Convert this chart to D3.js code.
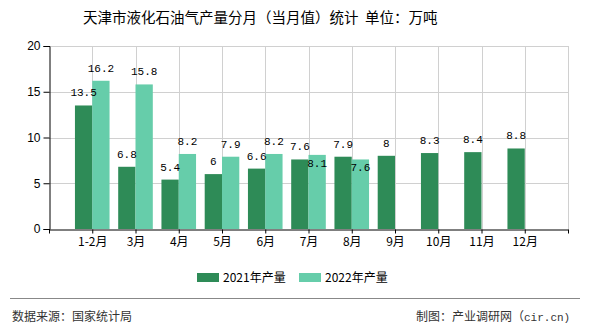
<!DOCTYPE html>
<html><head><meta charset="utf-8">
<script src="https://cdn.jsdelivr.net/npm/d3@7"></script>
<style>
html,body{margin:0;padding:0;background:#fff;}
svg{display:block;}
</style></head>
<body>
<svg id="c" width="590" height="330"></svg>
<script>
const categories = ["1-2月","3月","4月","5月","6月","7月","8月","9月","10月","11月","12月"];
const values2021 = [13.5, 6.8, 5.4, 6, 6.6, 7.6, 7.9, 8, 8.3, 8.4, 8.8];
const values2022 = [16.2, 15.8, 8.2, 7.9, 8.2, 8.1, 7.6];
const seriesNames = ["2021年产量", "2022年产量"];
const yTicks = [0, 5, 10, 15, 20];
const title = "天津市液化石油气产量分月（当月值）统计  单位：万吨";
const sourceText = "数据来源：国家统计局";
const creditCJK = "制图：产业调研网（";
const creditLatin = "cir.cn)";

(function () {
const colors = ["#2E8B57", "#66CDAA"];
const cjk = "'Noto Sans CJK SC', 'Noto Sans', sans-serif";
const mono = "'Liberation Mono', 'DejaVu Sans Mono', monospace";
const svg = d3.select("#c");

const pL = 49, pR = 568, pT = 46, pB = 229;
const x = d3.scaleLinear().domain([0, categories.length + 1]).range([pL, pR]);
const y = d3.scaleLinear().domain([0, 20]).range([pB, pT]);
const step = x(1) - x(0);
const bw = step * 0.4;

// title
svg.append("text").attr("x", 83).attr("y", 23)
  .attr("font-family", cjk).attr("font-size", 14.5).attr("fill", "#000")
  .style("white-space", "pre").text(title);

// grid
const g = svg.append("g");
g.selectAll("line.h").data(yTicks.filter(d => d > 0)).join("line")
  .attr("x1", pL).attr("x2", pR).attr("y1", d => Math.round(y(d)) + 0.5).attr("y2", d => Math.round(y(d)) + 0.5)
  .attr("stroke", "#d0d0d0");
g.selectAll("line.v").data(d3.range(1, categories.length + 2)).join("line")
  .attr("x1", d => Math.round(x(d)) + 0.5).attr("x2", d => Math.round(x(d)) + 0.5)
  .attr("y1", pT).attr("y2", pB).attr("stroke", "#d0d0d0");

// bars
const bars = svg.append("g");
bars.selectAll("rect.a").data(values2021).join("rect")
  .attr("x", (d, i) => x(i + 1) - bw).attr("width", bw)
  .attr("y", d => y(d)).attr("height", d => y(0) - y(d)).attr("fill", colors[0]);
bars.selectAll("rect.b").data(values2022).join("rect")
  .attr("x", (d, i) => x(i + 1)).attr("width", bw)
  .attr("y", d => y(d)).attr("height", d => y(0) - y(d)).attr("fill", colors[1]);

// labels with simple collision avoidance
const labels = svg.append("g").attr("font-family", mono).attr("font-size", 11).attr("fill", "#000").attr("text-anchor", "middle");
const boxA = values2021.map((d, i) => ({ cx: x(i + 1) - bw / 2, base: y(d) - 9, w: String(d).length * 6.6, v: d }));
const boxB = values2022.map((d, i) => {
  let b = { cx: x(i + 1) + bw / 2, base: y(d) - 9, w: String(d).length * 6.6, v: d };
  const a = boxA[i];
  if (a && Math.abs(a.cx - b.cx) < (a.w + b.w) / 2 && Math.abs(a.base - b.base) < 12) {
    b.base = y(d) + 12;
  }
  return b;
});
labels.selectAll("text.a").data(boxA).join("text").attr("x", d => d.cx).attr("y", d => d.base).text(d => d.v);
labels.selectAll("text.b").data(boxB).join("text").attr("x", d => d.cx).attr("y", d => d.base).text(d => d.v);

// axes
const yAxis = d3.axisLeft(y).tickValues(yTicks).tickSize(6).tickPadding(3);
const ya = svg.append("g").attr("transform", `translate(${pL + 0.5},0)`).call(yAxis);
ya.selectAll("text").attr("font-family", "'Liberation Sans', Arial, sans-serif").attr("font-size", 12).attr("fill", "#000");
ya.selectAll("line,path").attr("stroke", "#000");

const xAxis = d3.axisBottom(x).tickValues(d3.range(0, categories.length + 2))
  .tickFormat(d => (d >= 1 && d <= categories.length) ? categories[d - 1] : "")
  .tickSizeInner(4).tickSizeOuter(0).tickPadding(4);
const xa = svg.append("g").attr("transform", `translate(0,${pB + 0.5})`).call(xAxis);
xa.selectAll("text").attr("font-family", cjk).attr("font-size", 12).attr("fill", "#000");
xa.selectAll("line,path").attr("stroke", "#000");

// legend
const leg = svg.append("g");
const legX = [197, 299];
seriesNames.forEach((n, i) => {
  leg.append("rect").attr("x", legX[i]).attr("y", 273).attr("width", 22).attr("height", 9).attr("fill", colors[i]);
  leg.append("text").attr("x", legX[i] + 26).attr("y", 282).attr("font-family", cjk).attr("font-size", 12).attr("fill", "#000").text(n);
});

// footer
svg.append("line").attr("x1", 10).attr("x2", 580).attr("y1", 298.5).attr("y2", 298.5).attr("stroke", "#888").attr("stroke-width", 1.2);
svg.append("text").attr("x", 12).attr("y", 320.5).attr("font-family", cjk).attr("font-size", 12).attr("fill", "#333").text(sourceText);
const cr = svg.append("text").attr("x", 416).attr("y", 320.5).attr("font-family", cjk).attr("font-size", 12).attr("fill", "#333");
cr.append("tspan").text(creditCJK);
cr.append("tspan").attr("font-family", mono).attr("font-size", 11).text(creditLatin);
})();
</script>
</body></html>
